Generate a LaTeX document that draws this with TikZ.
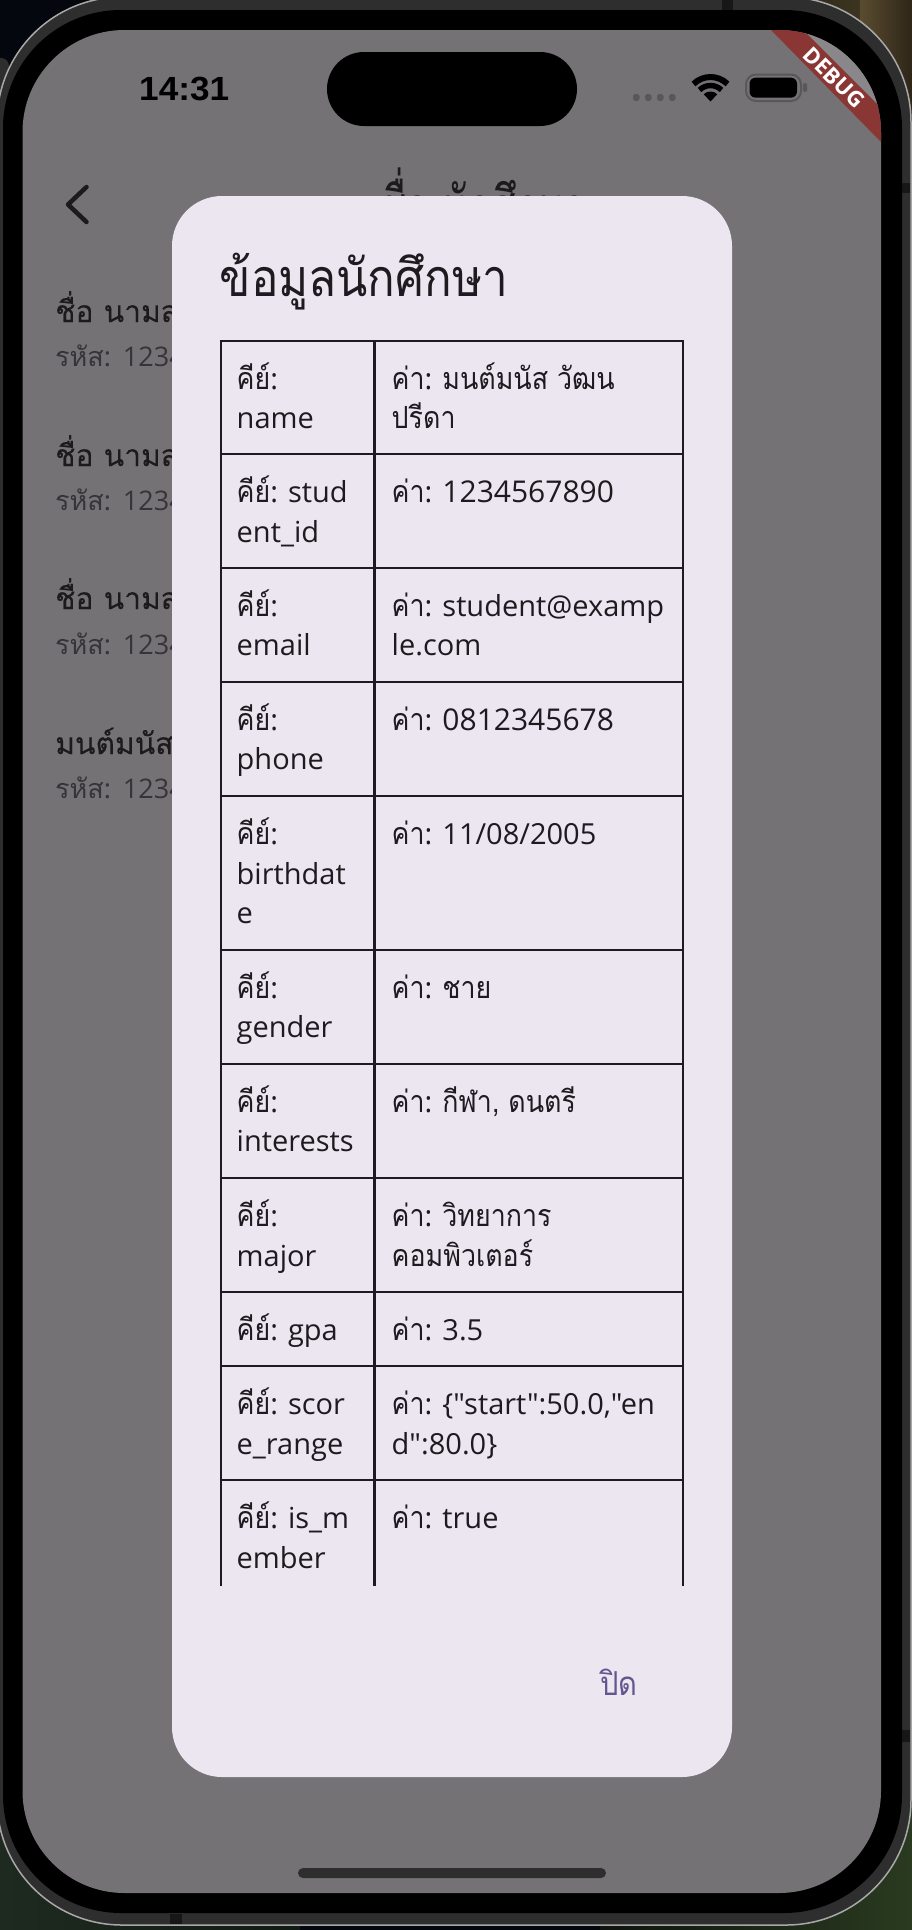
\documentclass[tikz,border=0pt]{standalone}
\usepackage{fontspec}
\setmainfont{Open Sans}[Ligatures=TeXOff]
\newfontfamily\thaifont[Script=Thai,FakeStretch=0.88,Scale=1.05]{Loma}
\newfontfamily\thaiwide[Script=Thai]{Loma}
\newfontfamily\thaititle[Script=Thai,FakeStretch=0.88]{Loma}
\newfontfamily\thaibar[Script=Thai,FakeStretch=0.64]{Loma}
\newfontfamily\thainame[Script=Thai,FakeBold=0.15]{Loma}
\newfontfamily\statusfont[FakeStretch=1.05]{Liberation Sans}
\newcommand{\T}[1]{{\thaifont #1}}
\newcommand{\D}[1]{{\fontsize{30}{30}\selectfont #1}}
\definecolor{scrim}{HTML}{747275}
\definecolor{dialogbg}{HTML}{ECE6F0}
\definecolor{ink}{HTML}{1D1B20}
\definecolor{listink}{HTML}{1C1A1D}
\definecolor{subink}{HTML}{363438}
\definecolor{framegrey}{HTML}{2E2E2E}
\definecolor{edgegrey}{HTML}{A8A8A8}
\definecolor{ribbon}{HTML}{8A3634}
\definecolor{btn}{HTML}{65558F}
\definecolor{icongrey}{HTML}{59575A}
\tikzset{
  x=1pt,y=-1pt,
  cellk/.style={anchor=base west,inner sep=0pt,text=ink,font=\fontsize{29}{29}\selectfont},
  tline/.style={draw=ink,line width=2.6pt},
  nameitem/.style={anchor=base west,inner sep=0pt,text=listink,font=\thainame\fontsize{30}{30}\selectfont},
  subitem/.style={anchor=base west,inner sep=0pt,text=subink,font=\fontsize{27}{27}\selectfont},
}
\newcommand{\cell}[3]{\node[cellk] at (#1,#2) {#3};}
\newcommand{\subtext}{{\thaiwide รหัส}:\hspace{2.5pt} 1234567890}
\begin{document}
\begin{tikzpicture}
\useasboundingbox (0,0) rectangle (912,1930);
\begin{scope}
\clip (0,0) rectangle (912,1930);
% wallpaper
\fill[fill={rgb,255:red,5;green,7;blue,15}] (0,0) rectangle (912,1930);
\fill[left color={rgb,255:red,30;green,42;blue,32},right color={rgb,255:red,18;green,26;blue,20}] (0,1700) rectangle (300,1930);
\fill[left color={rgb,255:red,14;green,20;blue,14},right color={rgb,255:red,42;green,58;blue,32}] (600,1700) rectangle (912,1930);
\fill[left color={rgb,255:red,38;green,38;blue,22},right color={rgb,255:red,60;green,52;blue,32}] (780,0) rectangle (860,230);
\fill[left color={rgb,255:red,90;green,76;blue,48},right color={rgb,255:red,46;green,37;blue,24}] (860,0) rectangle (912,230);
% side sliver
\fill[framegrey,rounded corners=8pt] (-14,58) rectangle (9,400);
% frame
\fill[framegrey,draw=edgegrey,line width=1.5pt,rounded corners=125pt] (-3,-3) rectangle (911,1925);
\fill[black!50!framegrey] (722,0) rectangle (733,10);
\fill[black!50!framegrey] (170,1914) rectangle (182,1924);
\fill[black!50!framegrey] (902,183) rectangle (910,193);
\fill[black!50!framegrey] (902,1730) rectangle (910,1742);
\fill[black,rounded corners=118pt] (3,10) rectangle (902,1913);
% screen
\fill[scrim,rounded corners=102pt] (22.5,30) rectangle (881,1893);
% app bar title behind dialog
\node[anchor=base west,inner sep=0pt,text=listink,font=\thaibar\fontsize{60}{60}\selectfont] (apptitle) at (380,229) {ชื่อ นักศึกษา};
% back chevron
\draw[listink,line width=4.5pt,line cap=round,line join=round] (86.5,187) -- (68,204.5) -- (86.5,222);
% list
\node[nameitem] (n1) at (55,322) {ชื่อ นามสกุล};
\node[subitem] (s1) at (55,366) {\subtext};
\node[nameitem] (n2) at (55,466) {ชื่อ นามสกุล};
\node[subitem] (s2) at (55,510) {\subtext};
\node[nameitem] (n3) at (55,609) {ชื่อ นามสกุล};
\node[subitem] (s3) at (55,654) {\subtext};
\node[nameitem] (n4) at (55,754) {มนต์มนัส วัฒน};
\node[subitem] (s4) at (55,798) {\subtext};
% status bar
\node[anchor=base west,inner sep=0pt,text=black,font=\statusfont\bfseries\fontsize{33.5}{33.5}\selectfont] (clock) at (139,100) {14:31};
\fill[black,rounded corners=37pt] (327,52) rectangle (577,126);
\foreach \xx in {633,645,657,669}{\fill[icongrey,rounded corners=1.8pt] (\xx,94) rectangle ++(6.5,7);}
% wifi
\draw[black,line width=6pt] (693.5,84) .. controls (702.9,74.7) and (718.1,74.7) .. (727.5,84);
\draw[black,line width=5.5pt] (699.5,90) .. controls (705.6,84) and (715.4,84) .. (721.5,90);
\fill[black] (710.5,101.5) -- (703.8,94.3) .. controls (706.5,90.6) and (714.5,90.6) .. (717.2,94.3) -- cycle;
% battery
\draw[icongrey,line width=2pt,rounded corners=10pt] (746,74.5) rectangle (801,101);
\fill[black,rounded corners=6pt] (749.5,77.7) rectangle (797,97.7);
\fill[icongrey,rounded corners=1.5pt] (803,83) rectangle (807,92);
% debug ribbon
\begin{scope}
\clip[rounded corners=102pt] (22.5,30) rectangle (881,1893);
\fill[scrim!85!white] (800,30) -- (890,30) -- (890,120) -- cycle;
\fill[ribbon] (771,30) -- (881,142) -- (890,142) -- (890,117) -- (803,30) -- cycle;
\end{scope}
\node[rotate=-45,inner sep=0pt,text=white,font=\bfseries\fontsize{22}{22}\selectfont] (debug) at (834,77.5) {DEBUG};
% home indicator
\fill[framegrey,rounded corners=5pt] (298,1868) rectangle (606,1878);
% dialog
\fill[dialogbg,rounded corners=50pt] (172,196) rectangle (732,1777);
\node[anchor=base west,inner sep=0pt,text=ink,font=\thaititle\fontsize{52}{52}\selectfont] (dlgtitle) at (219.5,296.5) {ข้อมูลนักศึกษา};
% table
\foreach \yy in {341,454,568,682,796,950,1064,1178,1292,1366,1480}{\draw[tline] (219.7,\yy) -- (684.3,\yy);}
\foreach \xx in {221,374.5,683}{\draw[tline] (\xx,340) -- (\xx,1586);}
% rows
\cell{236.5}{389}{\T{คีย์}:}\cell{236.5}{428}{name}
\cell{391.5}{389}{\T{ค่า}: \T{มนต์มนัส วัฒน}}\cell{391.5}{428}{\T{ปรีดา}}
\cell{236.5}{502}{\T{คีย์}: stud}\cell{236.5}{542}{ent\_id}
\cell{391.5}{502}{\T{ค่า}: \D{1234567890}}
\cell{236.5}{616}{\T{คีย์}:}\cell{236.5}{655}{email}
\cell{391.5}{616}{\T{ค่า}: student@examp}\cell{391.5}{655}{le.com}
\cell{236.5}{730}{\T{คีย์}:}\cell{236.5}{769}{phone}
\cell{391.5}{730}{\T{ค่า}: \D{0812345678}}
\cell{236.5}{844}{\T{คีย์}:}\cell{236.5}{884}{birthdat}\cell{236.5}{923}{e}
\cell{391.5}{844}{\T{ค่า}: 11/08/2005}
\cell{236.5}{998}{\T{คีย์}:}\cell{236.5}{1037}{gender}
\cell{391.5}{998}{\T{ค่า}: \T{ชาย}}
\cell{236.5}{1112}{\T{คีย์}:}\cell{236.5}{1151}{interests}
\cell{391.5}{1112}{\T{ค่า}: \T{กีฬา, ดนตรี}}
\cell{236.5}{1226}{\T{คีย์}:}\cell{236.5}{1266}{major}
\cell{391.5}{1226}{\T{ค่า}: \T{วิทยาการ}}\cell{391.5}{1266}{\T{คอมพิวเตอร์}}
\cell{236.5}{1340}{\T{คีย์}: gpa}
\cell{391.5}{1340}{\T{ค่า}: 3.5}
\cell{236.5}{1414}{\T{คีย์}: scor}\cell{236.5}{1454}{e\_range}
\cell{391.5}{1414}{\T{ค่า}: \{"start":50.0,"en}\cell{391.5}{1454}{d":80.0\}}
\cell{236.5}{1528}{\T{คีย์}: is\_m}\cell{236.5}{1568}{ember}
\cell{391.5}{1528}{\T{ค่า}: true}
% close button
\node[anchor=base west,inner sep=0pt,text=btn,font=\thaititle\fontsize{33}{33}\selectfont] (closebtn) at (600,1695) {ปิด};
\end{scope}
\end{tikzpicture}
\end{document}
